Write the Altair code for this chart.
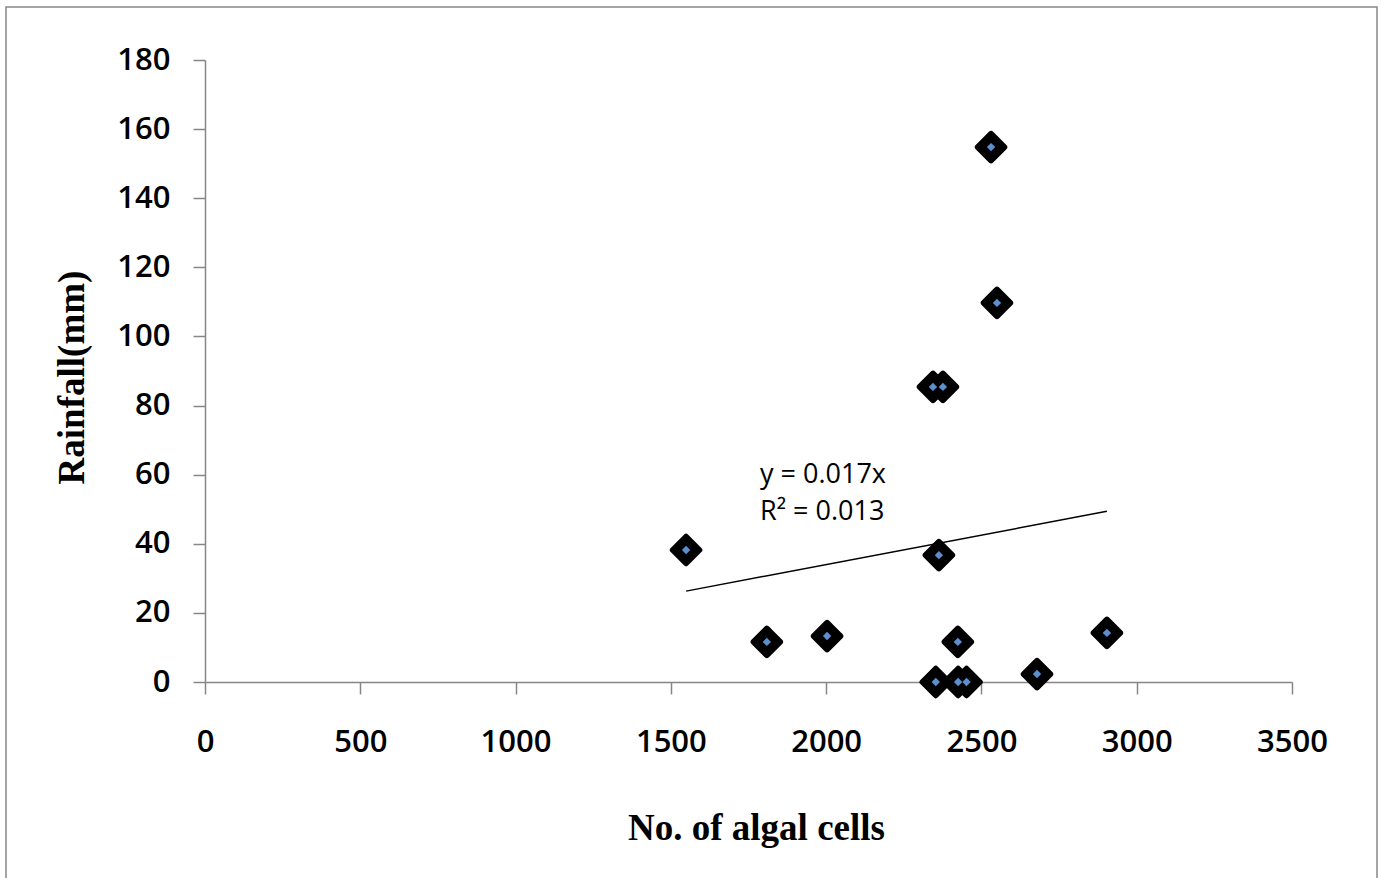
import altair as alt
import pandas as pd

# Scatter values
algal_cells = [1549, 1809, 2003, 2344, 2376, 2363, 2353, 2424, 2425, 2452, 2531, 2550, 2679, 2904]
rainfall = [38.2, 11.6, 13.3, 85.4, 85.4, 36.7, 0.0, 11.6, 0.0, 0.0, 154.8, 109.7, 2.3, 14.2]

# Trend line endpoints (y = 0.017x, through origin)
trend_x = [1549, 2904]
trend_y = [26.3, 49.4]

# Annotation
eq_lines = ["y = 0.017x", "R\u00b2 = 0.013"]
eq_x = [1787, 1787]
eq_y = [59.9, 49.2]

x_ticks = [0, 500, 1000, 1500, 2000, 2500, 3000, 3500]
y_ticks = [0, 20, 40, 60, 80, 100, 120, 140, 160, 180]

pts = pd.DataFrame({"x": algal_cells, "y": rainfall})
trend = pd.DataFrame({"x": trend_x, "y": trend_y})
eq = pd.DataFrame({"t": eq_lines, "x": eq_x, "y": eq_y})

GREY = "#868686"

xscale = alt.Scale(domain=[0, 3500], nice=False, zero=True)
yscale = alt.Scale(domain=[0, 180], nice=False, zero=True)

xaxis = alt.Axis(
    title="No. of algal cells", values=x_ticks, grid=False, format="d", labelFlush=False,
    domainColor=GREY, domainWidth=1.5, tickColor=GREY, tickWidth=1.5, tickSize=12,
    labelFont="Open Sans", labelFontSize=31, labelFontWeight=600, labelColor="black", labelPadding=33,
    titleFont="Liberation Serif", titleFontWeight="bold", titleFontSize=37, titleColor="black",
    titleBaseline="middle", titleX=551, titleY=146,
)
yaxis = alt.Axis(
    title="Rainfall(mm)", values=y_ticks, grid=False, format="d", labelFlush=False,
    domainColor=GREY, domainWidth=1.5, tickColor=GREY, tickWidth=1.5, tickSize=12,
    labelFont="Open Sans", labelFontSize=31, labelFontWeight=600, labelColor="black", labelPadding=23,
    titleFont="Liberation Serif", titleFontWeight="bold", titleFontSize=37, titleColor="black",
    titleBaseline="middle", titleX=-133, titleY=317, titleAngle=-90,
)

border = alt.Chart(pd.DataFrame({"a": [0]})).mark_rect(
    fill=None, stroke=GREY, strokeWidth=1.5
).encode(
    x=alt.value(-199), x2=alt.value(1172), y=alt.value(-53), y2=alt.value(830)
)

line = alt.Chart(trend).mark_line(color="black", strokeWidth=1.5).encode(
    x=alt.X("x:Q", scale=xscale, axis=xaxis),
    y=alt.Y("y:Q", scale=yscale, axis=yaxis),
)

outer = alt.Chart(pts).mark_point(
    shape="diamond", filled=True, fill="black", stroke="black",
    strokeWidth=6, strokeJoin="round", size=700, opacity=1,
).encode(x=alt.X("x:Q", scale=xscale), y=alt.Y("y:Q", scale=yscale))

inner = alt.Chart(pts).mark_point(
    shape="diamond", filled=True, fill="#5B8FD0", size=70, opacity=1, strokeWidth=0,
).encode(x=alt.X("x:Q", scale=xscale), y=alt.Y("y:Q", scale=yscale))

text = alt.Chart(eq).mark_text(
    align="left", baseline="middle", font="Open Sans", fontSize=27, color="black"
).encode(x=alt.X("x:Q", scale=xscale), y=alt.Y("y:Q", scale=yscale), text="t:N")

chart = alt.layer(border, line, outer, inner, text).properties(
    width=1087, height=622,
    autosize=alt.AutoSizeParams(type="none"),
    padding={"left": 205, "top": 60, "right": 90, "bottom": 196},
    background="white",
).configure_view(stroke=None)

chart.save("out.html", embed_options={"renderer": "svg", "actions": False})
